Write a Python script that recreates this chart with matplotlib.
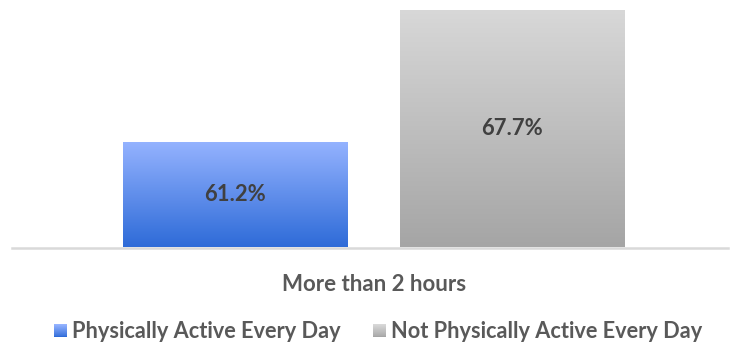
import numpy as np
import matplotlib
matplotlib.use('Agg')
import matplotlib.pyplot as plt
from matplotlib.patches import Rectangle
from matplotlib.colors import LinearSegmentedColormap
from matplotlib.legend_handler import HandlerBase

plt.rcParams['font.family'] = ['Lato', 'DejaVu Sans']

categories = ['More than 2 hours']
series_names = ['Physically Active Every Day', 'Not Physically Active Every Day']
values = [61.2, 67.7]
value_labels = ['61.2%', '67.7%']

# gradient colours (top, bottom) for each series
grad_colors = [('#95B3FF', '#2E6BD8'), ('#D8D8D8', '#A5A5A5')]

fig = plt.figure(figsize=(7.4, 3.47), dpi=100)
ax = fig.add_axes([12/740, (347-247.5)/347, 716/740, (247.5-4)/347])

bar_w = 0.81
xs = [0, 1]
bars = ax.bar(xs, values, width=bar_w, bottom=0, color='none', edgecolor='none')

grad = np.linspace(0, 1, 256).reshape(-1, 1)
for b, (top, bot) in zip(bars, grad_colors):
    cmap = LinearSegmentedColormap.from_list('g', [bot, top])
    x0, w = b.get_x(), b.get_width()
    img = ax.imshow(grad, cmap=cmap, origin='lower', aspect='auto',
                    extent=[x0, x0 + w, 56, b.get_height()], zorder=2)
    img.set_clip_path(b)

ax.set_xlim(-0.806, 1.78)
ax.set_ylim(56, 68)

for x, v, lab in zip(xs, values, value_labels):
    ax.text(x, (56 + v) / 2, lab, ha='center', va='center', fontsize=15.8,
            fontweight='bold', color='#404040', zorder=3)

for s in ['top', 'right', 'left']:
    ax.spines[s].set_visible(False)
ax.spines['bottom'].set_color('#D9D9D9')
ax.spines['bottom'].set_linewidth(1.8)
ax.set_yticks([])
ax.set_xticks([0.5])
ax.set_xticklabels(categories, fontsize=16, fontweight='bold', color='#595959')
ax.tick_params(axis='x', length=0, pad=19)


class GradHandler(HandlerBase):
    def __init__(self, top, bot):
        super().__init__()
        self.top, self.bot = top, bot

    def create_artists(self, legend, orig_handle, xdescent, ydescent, width,
                       height, fontsize, trans):
        cmap = LinearSegmentedColormap.from_list('g', [self.bot, self.top])
        size = 13 * 72 / 100
        x0 = -xdescent + width - size
        y0 = -ydescent + (height - size) / 2
        n = 14
        arts = []
        for i in range(n):
            arts.append(Rectangle((x0, y0 + size * i / n), size, size / n + 0.3,
                                  facecolor=cmap(i / (n - 1)), edgecolor='none',
                                  transform=trans))
        return arts


handles = [Rectangle((0, 0), 1, 1) for _ in series_names]
hmap = {h: GradHandler(*c) for h, c in zip(handles, grad_colors)}
leg = fig.legend(handles, series_names, handler_map=hmap, loc='center',
                 bbox_to_anchor=(378/740, 15/347), ncol=2, frameon=False,
                 prop={'size': 15.7, 'weight': 'bold'}, handlelength=0.6,
                 handletextpad=0.25, columnspacing=1.45)
for t in leg.get_texts():
    t.set_color('#595959')

fig.savefig('out.png', dpi=100)
